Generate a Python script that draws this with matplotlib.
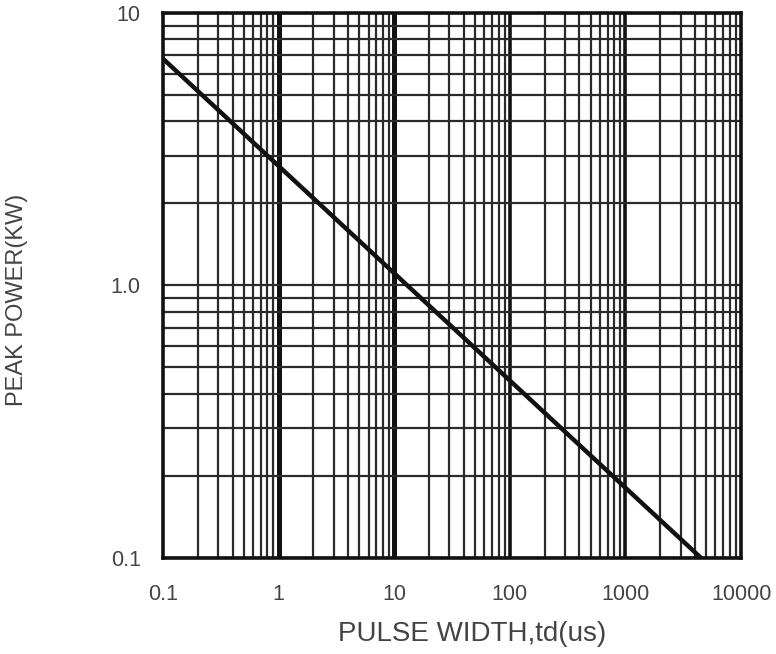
import matplotlib
matplotlib.use("Agg")
import matplotlib.pyplot as plt
from matplotlib.ticker import LogLocator, NullFormatter, FixedLocator, FixedFormatter

plt.rcParams['font.family'] = ['Liberation Sans', 'DejaVu Sans']

pulse_width = [0.1, 4500]
peak_power = [6.8, 0.1]
x_ticks = [0.1, 1, 10, 100, 1000, 10000]
x_labels = ["0.1", "1", "10", "100", "1000", "10000"]
y_ticks = [0.1, 1, 10]
y_labels = ["0.1", "1.0", "10"]

fig = plt.figure(figsize=(7.76, 6.54), dpi=100)
ax = fig.add_axes([0.210, 0.147, 0.745, 0.833])
ax.set_xscale('log')
ax.set_yscale('log')
ax.set_xlim(0.1, 10000)
ax.set_ylim(0.1, 10)

ax.xaxis.set_major_locator(FixedLocator(x_ticks))
ax.xaxis.set_major_formatter(FixedFormatter(x_labels))
ax.yaxis.set_major_locator(FixedLocator(y_ticks))
ax.yaxis.set_major_formatter(FixedFormatter(y_labels))
ax.xaxis.set_minor_locator(LogLocator(base=10, subs=range(2, 10)))
ax.yaxis.set_minor_locator(LogLocator(base=10, subs=range(2, 10)))
ax.xaxis.set_minor_formatter(NullFormatter())
ax.yaxis.set_minor_formatter(NullFormatter())

ax.grid(which='minor', color='#2a2a2a', linewidth=1.6)
ax.grid(which='major', axis='y', color='#2a2a2a', linewidth=1.6)
# vertical decade lines
widths = {1: 3.6, 10: 3.6, 100: 2.6, 1000: 2.6}
for xv in x_ticks[1:-1]:
    ax.axvline(xv, color='#111111', linewidth=widths[xv], zorder=1)

ax.tick_params(axis='x', which='both', length=0, labelsize=15.5, colors='#444444', pad=19)
ax.tick_params(axis='y', which='both', length=0, labelsize=15.5, colors='#444444', pad=16)

for s in ax.spines.values():
    s.set_linewidth(2.6)
    s.set_color('#111111')

ax.plot(pulse_width, peak_power, color='#111111', linewidth=3.2, zorder=5)

ax.set_xlabel("PULSE WIDTH,td(us)", fontsize=20, color='#444444')
ax.set_ylabel("PEAK POWER(KW)", fontsize=17, color='#444444')
ax.xaxis.set_label_coords(0.535, -0.115)
ax.yaxis.set_label_coords(-0.234, 0.473)

fig.savefig("out.png", dpi=100)
